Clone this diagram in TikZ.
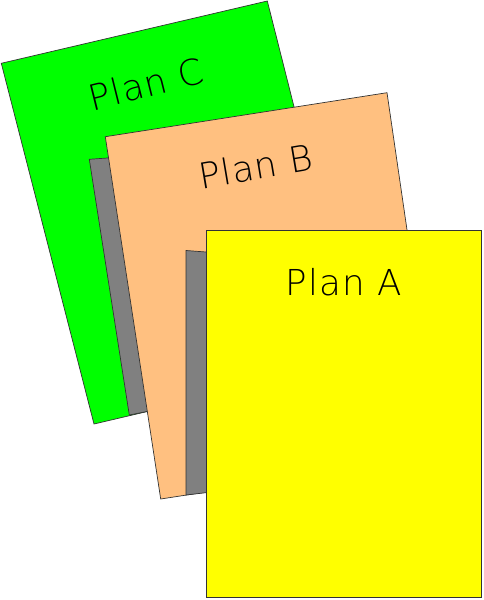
\documentclass[tikz,border=0pt]{standalone}
\usepackage{fontspec}
\IfFontExistsTF{DejaVu Sans ExtraLight}
  {\newfontfamily\planfont{DejaVu Sans ExtraLight}[LetterSpace=3]}
  {\IfFontExistsTF{DejaVuSans-ExtraLight.ttf}
    {\newfontfamily\planfont{DejaVuSans-ExtraLight.ttf}[LetterSpace=3]}
    {\newfontfamily\planfont{DejaVu Sans}[LetterSpace=3]}}
\definecolor{planC}{RGB}{0,255,0}
\definecolor{planB}{RGB}{255,192,128}
\definecolor{planA}{RGB}{255,255,0}
\definecolor{shade}{RGB}{128,128,128}
\tikzset{
  sheet/.style={draw=black!80, line width=0.7pt, line join=miter},
  label/.style={inner sep=0pt, font=\planfont\fontsize{35.7}{40}\selectfont, text=black}
}
\begin{document}
\begin{tikzpicture}[x=1pt,y=-1pt]
\useasboundingbox (0,0) rectangle (484,600);
% Plan C
\filldraw[sheet, fill=planC] (1.3,63.3) -- (267.3,1) -- (358.5,362) -- (94,424) -- cycle;
\node[label, rotate=14] (c) at (146,84) {Plan C};
% shadow behind B
\filldraw[sheet, fill=shade] (89.3,159.3) -- (130,156.4) -- (170,406.9) -- (129.3,415) -- cycle;
% Plan B
\filldraw[sheet, fill=planB] (105.3,136.7) -- (387,92.7) -- (440,456) -- (160.7,499) -- cycle;
\node[label, rotate=9.6] (b) at (255.5,166.5) {Plan B};
% shadow behind A
\filldraw[sheet, fill=shade] (186,250.5) -- (230,253.8) -- (230,489.9) -- (186,495) -- cycle;
% Plan A
\filldraw[sheet, fill=planA] (206,230) rectangle (481.7,597);
\node[label] (a) at (343.7,282) {Plan A};
\end{tikzpicture}
\end{document}
